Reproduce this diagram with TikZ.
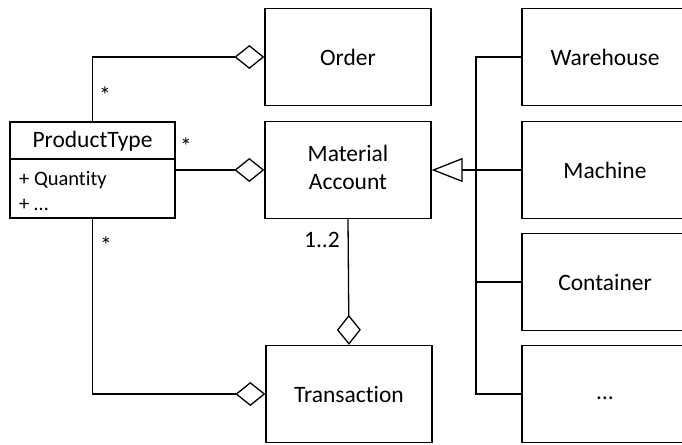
\documentclass[tikz,border=0pt]{standalone}
\usepackage{fontspec}
\setmainfont[Ligatures={NoCommon}]{Carlito}
\usetikzlibrary{arrows.meta}
\begin{document}
\begin{tikzpicture}[x=1pt,y=-1pt,
  box/.style={draw,line width=1.3pt,minimum width=166pt,minimum height=97pt,inner sep=0pt,font=\fontsize{23.5}{27}\selectfont},
  conn/.style={line width=1.3pt},
  agg/.style={conn,-{Diamond[open,length=30pt,width=24pt,line width=1.3pt]}},
  inh/.style={conn,-{Triangle[open,length=31pt,width=24pt,line width=1.3pt]}},
  lbl/.style={font=\fontsize{23.5}{27}\selectfont,inner sep=0pt},
  attr/.style={font=\fontsize{20.5}{24}\selectfont,inner sep=0pt,anchor=west}]
\useasboundingbox (0,0) rectangle (682,444);
\node[box] (Order) at (348,57) {Order};
\node[box] (Material) at (348,170) {\begin{tabular}{@{}c@{}}Material\\[1pt]Account\end{tabular}};
\node[box] (Transaction) at (349,394) {Transaction};
\node[box] (Warehouse) at (605,57) {Warehouse};
\node[box] (Machine) at (605,170) {Machine};
\node[box] (Container) at (605,282) {Container};
\node[box] (Dots) at (605,394) {\strut …};
% ProductType class
\node[draw,line width=1.3pt,minimum width=165pt,minimum height=96pt,inner sep=0pt] (PT) at (92.5,170) {};
\coordinate (PTdl) at (10,159);
\coordinate (PTdr) at (175,159);
\draw[conn] (PTdl) -- (PTdr);
\node[inner sep=0pt,font=\fontsize{23.5}{27}\selectfont] (PTname) at (92.5,141) {ProductType};
\node[attr] (PTa1) at (19,180) {+ Quantity};
\node[attr] (PTa2) at (19,205) {+ …};
% connectors
\draw[agg] (PT.north) |- (Order.west);
\draw[agg] (PT.east) -- (Material.west);
\draw[agg] (PT.south) |- (Transaction.west);
\draw[agg] (Material.south) -- (Transaction.north);
\coordinate (bus) at (476,57);
\draw[conn] (Warehouse.west) -- (bus) |- (Dots.west);
\draw[conn] (Container.west) -- ++(-46,0);
\draw[inh] (Machine.west) -- (Material.east);
% labels
\node[lbl] (m1) at (105,95) {*};
\node[lbl] (m2) at (186,146) {*};
\node[lbl] (m3) at (106,245) {*};
\node[lbl] (m4) at (322,240) {1..2};
\end{tikzpicture}
\end{document}
